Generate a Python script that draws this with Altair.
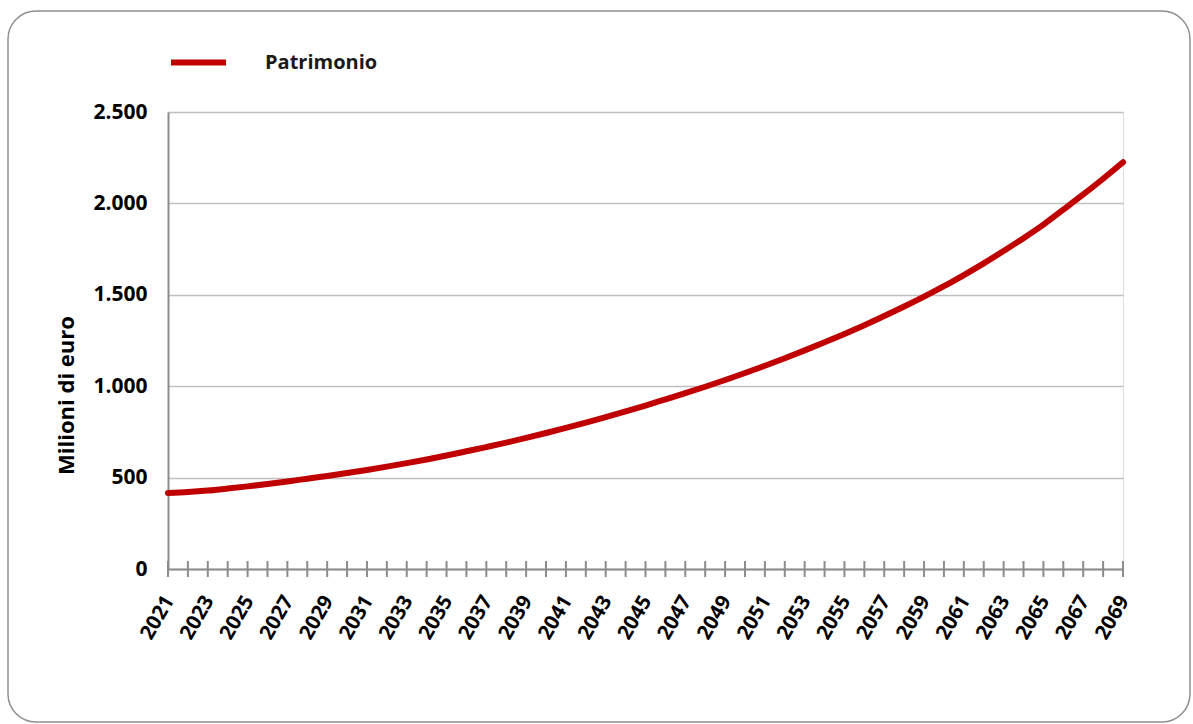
import altair as alt
import pandas as pd

years = list(range(2021, 2070))
patrimonio = [416, 421, 429, 440, 452, 465, 479, 494, 509, 525,
              542, 560, 579, 599, 621, 644, 667, 691, 717, 744,
              772, 801, 831, 862, 894, 928, 962, 997, 1034, 1072,
              1112, 1153, 1196, 1240, 1286, 1334, 1384, 1436, 1490, 1547,
              1608, 1672, 1740, 1810, 1884, 1966, 2049, 2135, 2225]
series_name = "Patrimonio"
y_ticks = [0, 500, 1000, 1500, 2000, 2500]

df = pd.DataFrame({"anno": years, "valore": patrimonio, "serie": series_name})
ticks_df = pd.DataFrame({"anno": years})
frame_df = pd.DataFrame({"k": [0]})

FONT = "Open Sans"
W, H = 955, 457

x_scale = alt.Scale(domain=[2021, 2069], nice=False, zero=False)
x_axis = alt.Axis(values=years, format="d",
                  labelExpr="(datum.value - 2021) % 2 == 0 ? datum.label : ''",
                  labelOverlap=False, labelFlush=False, labelBound=False,
                  labelAngle=300, labelAlign="right", labelBaseline="middle",
                  labelPadding=28, labelOffset=1, ticks=False, grid=False,
                  domainColor="#8c8c8c", domainWidth=2,
                  labelFont=FONT, labelFontSize=20.5, labelFontWeight="bold",
                  labelColor="#000000", title=None)

frame = alt.Chart(frame_df).mark_rect(
    fill="transparent", stroke="#8f8f8f", strokeWidth=1.5, cornerRadius=28
).encode(
    x=alt.value(-160), x2=alt.value(1022), y=alt.value(-101), y2=alt.value(610)
)

line = alt.Chart(df).mark_line(
    strokeWidth=6, strokeCap="round", strokeJoin="round", interpolate="monotone"
).encode(
    x=alt.X("anno:Q", scale=x_scale, axis=x_axis),
    y=alt.Y("valore:Q", scale=alt.Scale(domain=[0, 2500], nice=False),
            axis=alt.Axis(values=y_ticks, format=",d",
                          labelExpr="replace(datum.label, ',', '.')",
                          labelOverlap=False,
                          ticks=False, grid=True, gridColor="#c0c0c0", gridWidth=1.5,
                          domainColor="#8c8c8c", domainWidth=2,
                          labelFont=FONT, labelFontSize=21, labelFontWeight="bold",
                          labelColor="#000000", labelPadding=21,
                          title="Milioni di euro", titleFont=FONT, titleFontSize=22,
                          titleFontWeight="bold", titleColor="#000000",
                          titleAngle=270, titleX=-102, titleY=283,
                          titleAlign="center", titleBaseline="middle")),
    color=alt.Color("serie:N", scale=alt.Scale(range=["#C00000"]),
                    legend=alt.Legend(title=None, orient="none", legendX=0, legendY=-80,
                                      symbolType="stroke", symbolSize=3025,
                                      symbolStrokeWidth=6, labelOffset=36,
                                      labelFont=FONT, labelFontSize=20,
                                      labelFontWeight="bold", labelColor="#1a1a1a"))
)

tick_marks = alt.Chart(ticks_df).mark_rule(color="#8c8c8c", strokeWidth=2).encode(
    x=alt.X("anno:Q", scale=x_scale, axis=x_axis),
    y=alt.value(H - 8), y2=alt.value(H + 8)
)

chart = alt.layer(frame, line, tick_marks).properties(
    width=W, height=H,
    autosize=alt.AutoSizeParams(type="none"),
    padding={"left": 168, "top": 112, "right": 70, "bottom": 155},
).configure_view(stroke=None).configure(background="white")

chart.save("out.html", embed_options={"renderer": "svg", "actions": False})
